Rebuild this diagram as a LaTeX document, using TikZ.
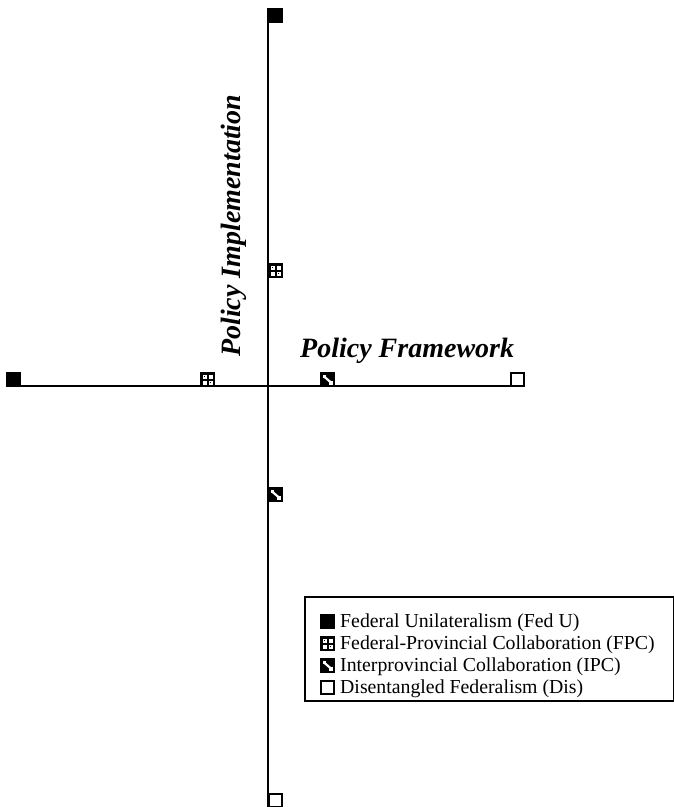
\documentclass[tikz,border=0pt]{standalone}
\usepackage{fontspec}
\setmainfont{Liberation Serif}
\begin{document}
\begin{tikzpicture}[x=1pt,y=-1pt,
  axis/.style={line width=2pt,black},
  fedu/.pic={\fill[black] (0,0) rectangle (15,15);},
  fpc/.pic={\fill[black] (0,0) rectangle (15,15);
    \fill[white] (2.5,2.5) rectangle (12.5,12.5);
    \fill[black] (6.5,2.5) rectangle (8.5,12.5);
    \fill[black] (2.5,6.5) rectangle (12.5,8.5);
    \fill[black] (4,4) rectangle (5,5);
    \fill[black] (10,10) rectangle (11,11);},
  ipc/.pic={\fill[black] (0,0) rectangle (15,15);
    \draw[white,line width=2.2pt] (3.5,4) -- (11.5,11);
    \fill[white] (2.5,2.5) rectangle (6,6);
    \fill[white] (9,9) rectangle (12.5,12.5);},
  dis/.pic={\draw[black,line width=1.8pt] (0.9,0.9) rectangle (14.1,14.1);},
  lbl/.style={font=\bfseries\itshape\fontsize{28}{32}\selectfont, inner sep=0pt},
  legtext/.style={font=\fontsize{19.8}{22}\selectfont, anchor=base west, inner sep=0pt}
]
\useasboundingbox (0,0) rectangle (673,807);
% axes
\coordinate (hl) at (6,386);
\coordinate (hr) at (511,386);
\coordinate (vt) at (268,8);
\coordinate (vb) at (268,807);
\draw[axis] (hl) -- (hr);
\draw[axis] (vt) -- (vb);
% horizontal markers (bottom-left on line)
\pic at (6,372) {fedu};
\pic at (200,372) {fpc};
\pic at (320,372) {ipc};
\pic at (510,372) {dis};
% vertical markers (left edge on line)
\pic at (268,8) {fedu};
\pic at (268,263) {fpc};
\pic at (268,487) {ipc};
\pic at (268,793) {dis};
% axis labels
\node[lbl, anchor=base west] (pf) at (300,357) {Policy Framework};
\node[lbl, rotate=90, anchor=base west] (pi) at (240,357) {Policy Implementation};
% legend
\draw[line width=1.8pt] (305,597) rectangle (674,701);
\pic at (320,614) {fedu};
\node[legtext] (l1) at (340,627) {Federal Unilateralism (Fed U)};
\pic at (320,636) {fpc};
\node[legtext] (l2) at (340,649) {Federal-Provincial Collaboration (FPC)};
\pic at (320,658) {ipc};
\node[legtext] (l3) at (340,671) {Interprovincial Collaboration (IPC)};
\pic at (320,680) {dis};
\node[legtext] (l4) at (340,693) {Disentangled Federalism (Dis)};
\end{tikzpicture}
\end{document}
